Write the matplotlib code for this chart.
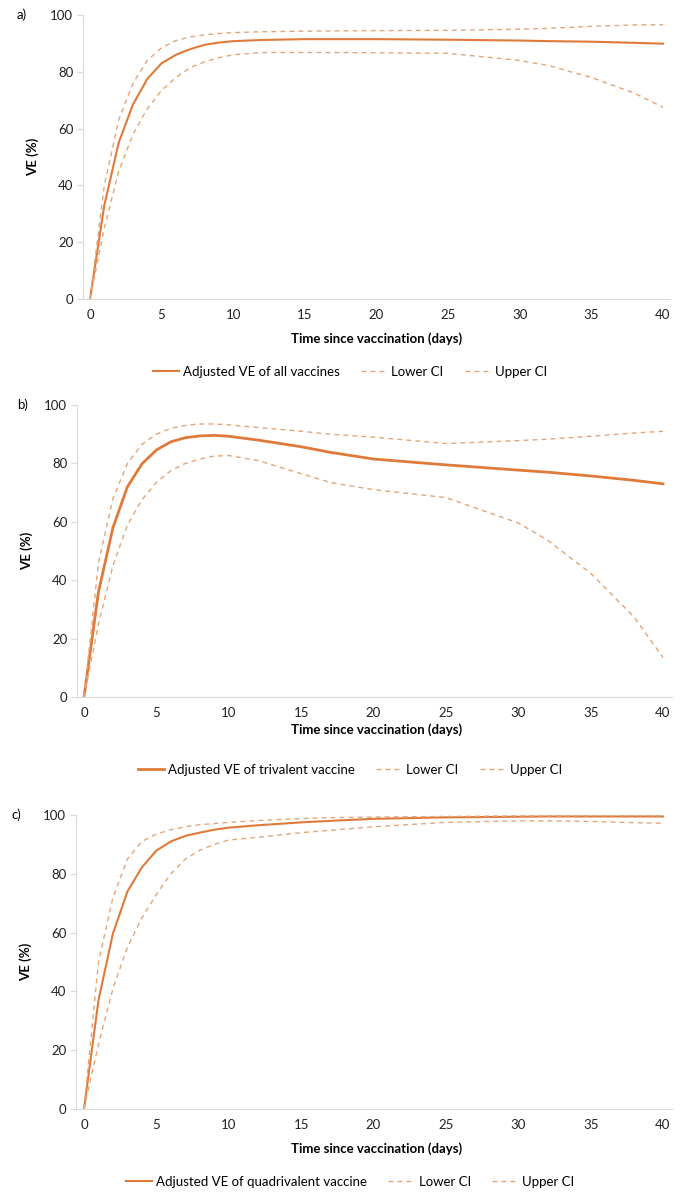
import numpy as np
import matplotlib.pyplot as plt

plt.rcParams['font.family'] = ['Lato', 'DejaVu Sans']

days = [0, 1, 2, 3, 4, 5, 6, 7, 8, 9, 10, 12, 15, 17, 20, 25, 30, 32, 35, 38, 40]

# a) all vaccines
ve_all = [0, 33, 55, 68.5, 77.5, 83, 86, 88, 89.5, 90.3, 90.8, 91.2, 91.5, 91.5, 91.5, 91.3, 91.0, 90.8, 90.6, 90.2, 89.9]
lo_all = [0, 25, 45, 58, 67, 73.5, 78, 81.5, 83.5, 85, 86, 86.8, 86.8, 86.8, 86.7, 86.5, 84, 82.2, 78, 72.5, 67.5]
up_all = [0, 40, 63, 76, 84, 88.5, 91, 92.3, 93, 93.5, 93.8, 94.1, 94.3, 94.4, 94.5, 94.6, 95.0, 95.3, 96.0, 96.5, 96.6]

# b) trivalent
ve_tri = [0, 36, 58, 72, 79.8, 84.6, 87.4, 88.8, 89.4, 89.6, 89.3, 88, 85.7, 83.8, 81.5, 79.5, 77.7, 77.0, 75.7, 74.2, 73.0]
lo_tri = [0, 25, 45, 59, 67.5, 73.5, 77.5, 80, 81.5, 82.5, 82.7, 81, 76.5, 73.5, 71, 68.3, 59.6, 53.8, 42.4, 27.4, 13.5]
up_tri = [0, 46, 68, 80, 86.5, 90, 92, 93, 93.5, 93.5, 93.2, 92.3, 91, 90, 89, 86.8, 87.8, 88.3, 89.3, 90.4, 91.0]

# c) quadrivalent
ve_quad = [0, 37, 59.7, 74, 82.2, 87.9, 91, 92.9, 94, 95, 95.7, 96.5, 97.5, 98, 98.7, 99.2, 99.4, 99.5, 99.5, 99.5, 99.5]
lo_quad = [0, 22, 41, 55, 65, 73, 80, 85, 88, 90, 91.5, 92.4, 94, 94.8, 96, 97.5, 98, 98, 97.8, 97.4, 97.2]
up_quad = [0, 50, 72, 85, 91, 93.5, 95, 96, 96.7, 97.1, 97.5, 98.1, 98.8, 99.1, 99.3, 99.5, 99.7, 99.7, 99.8, 99.8, 99.8]

panels = [
    ("a)", "Adjusted VE of all vaccines", ve_all, lo_all, up_all, 1.5),
    ("b)", "Adjusted VE of trivalent vaccine", ve_tri, lo_tri, up_tri, 2.0),
    ("c)", "Adjusted VE of quadrivalent vaccine", ve_quad, lo_quad, up_quad, 1.5),
]

# pixel geometry: axes left/right, y of 100, y of 0, x px of day 0 and 40, tag pos, xlabel y, legend y
geom = [
    (83, 670, 15, 299, 90, 663, (17, 15), 339, 372),
    (77, 672, 405, 697, 84, 663, (17, 405), 730, 770),
    (76, 672, 815, 1109, 84, 663, (12, 815), 1149, 1182),
]

W, H = 683, 1200
fig = plt.figure(figsize=(W / 100, H / 100), dpi=100)

solid_c = '#E07A3A'
dash_c = '#E3A57A'
axis_c = '#D9D9D9'
fs = 9.5

for (tag, lab, ve, lo, up, lw), g in zip(panels, geom):
    left, right, ytop, ybot, x0, x40, tpos, xly, legy = g
    ax = fig.add_axes([left / W, 1 - ybot / H, (right - left) / W, (ybot - ytop) / H])
    ppu = (x40 - x0) / 40
    ax.set_xlim(-(x0 - left) / ppu, 40 + (right - x40) / ppu)
    ax.set_ylim(0, 100)
    l1, = ax.plot(days, ve, color=solid_c, lw=lw, label=lab)
    l2, = ax.plot(days, lo, color=dash_c, lw=1.0, ls=(0, (3.5, 3)), label='Lower CI')
    l3, = ax.plot(days, up, color=dash_c, lw=1.0, ls=(0, (3.5, 3)), label='Upper CI')
    ax.set_xticks(range(0, 41, 5))
    ax.set_yticks(range(0, 101, 20))
    for s in ['top', 'right']:
        ax.spines[s].set_visible(False)
    for s in ['left', 'bottom']:
        ax.spines[s].set_color(axis_c)
    ax.tick_params(axis='x', length=0, pad=7, labelsize=fs, colors='#222222')
    ax.tick_params(axis='y', length=4, color=axis_c, pad=3, labelsize=fs, labelcolor='#222222')
    ax.set_ylabel('VE (%)', fontsize=fs, fontweight='bold', labelpad=8)
    fig.text(tpos[0] / W, 1 - tpos[1] / H, tag, fontsize=fs, va='center', ha='left')
    fig.text(377 / W, 1 - xly / H, 'Time since vaccination (days)',
             fontsize=fs, fontweight='bold', ha='center', va='center')
    fig.legend(handles=[l1, l2, l3], loc='center', bbox_to_anchor=(350 / W, 1 - legy / H),
               ncol=3, frameon=False, fontsize=fs, handlelength=2.0, columnspacing=1.6,
               handletextpad=0.3)

fig.savefig('out.png', dpi=100)
